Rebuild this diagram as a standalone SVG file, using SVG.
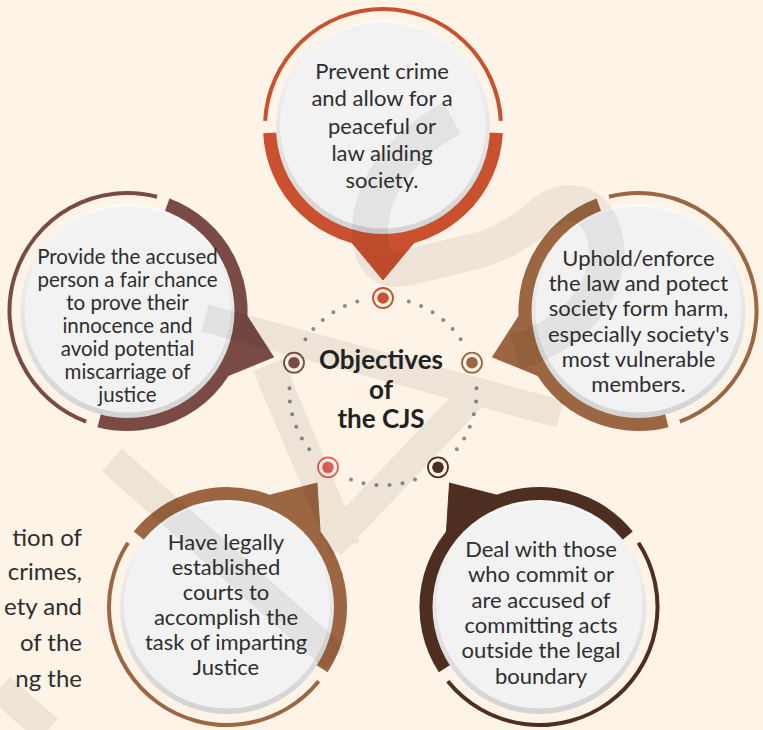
<svg xmlns="http://www.w3.org/2000/svg" width="763" height="730" viewBox="0 0 763 730">
<defs>
<style>
.t{font-family:Lato,"Liberation Sans",sans-serif;font-size:22px;fill:#2e2e2e;text-anchor:middle}
.sm{font-size:20.5px}
.side{font-family:Lato,"Liberation Sans",sans-serif;font-size:24px;fill:#2e2e2e;text-anchor:end}
.ctr{font-family:Lato,"Liberation Sans",sans-serif;font-size:26px;font-weight:bold;fill:#222;text-anchor:middle}
.thick{fill:none;stroke-width:15}
.thin{fill:none;stroke-width:4}
.mk{fill:#fdf3e6;stroke-width:1.8}
</style>
<linearGradient id="rim" x1="0" y1="0" x2="0" y2="1">
<stop offset="0" stop-color="#fafafa"/>
<stop offset="1" stop-color="#d3d3d3"/>
</linearGradient>
<g id="ring">
<path class="thick" d="M112.35,5.89A112.5,112.5 0 0 1 -112.35,5.89"/>
<path class="thin" d="M-117.84,-6.18A118,118 0 0 1 117.84,-6.18"/>
<polygon points="-44,100 44,100 0,153"/>
</g>
<g id="disk">
<circle r="107" fill="url(#rim)"/>
<circle cy="-1.5" r="103" fill="#f2f2f2"/>
</g>
</defs>
<rect width="763" height="730" fill="#fdf3e6"/>

<g id="node-top">
<use href="#ring" transform="translate(383,127)" fill="#c9512f" stroke="#c9512f"/>
<use href="#disk" x="383" y="127"/>
</g>
<g id="node-right">
<use href="#ring" transform="translate(638.5,311) rotate(72.5)" fill="#9b6641" stroke="#9b6641"/>
<use href="#disk" x="638.5" y="311"/>
</g>
<g id="node-left">
<use href="#ring" transform="translate(127.5,311) rotate(-72.5)" fill="#7a4b45" stroke="#7a4b45"/>
<use href="#disk" x="127.5" y="311"/>
</g>
<g id="node-bottom-left">
<use href="#ring" transform="translate(227,607) rotate(-144)" fill="#9b6641" stroke="#9b6641"/>
<use href="#disk" x="227" y="607"/>
</g>
<g id="node-bottom-right">
<use href="#ring" transform="translate(539.5,607) rotate(144)" fill="#4f2e22" stroke="#4f2e22"/>
<use href="#disk" x="539.5" y="607"/>
</g>

<g id="connectors">
<path fill="none" stroke="#8a8a8a" stroke-width="4" stroke-linecap="round" d="M408.8,301.6h0M421.1,306.1h0M432.6,312.2h0M443.2,319.9h0M452.6,329h0M460.6,339.3h0M476.5,388.3h0M476.1,401.4h0M473.8,414.2h0M469.8,426.7h0M464.1,438.4h0M456.8,449.2h0M415,479.6h0M402.5,483.2h0M389.5,485h0M376.5,485h0M363.5,483.2h0M351,479.6h0M309.2,449.2h0M301.9,438.4h0M296.2,426.7h0M292.2,414.2h0M289.9,401.4h0M289.5,388.3h0M305.4,339.3h0M313.4,329h0M322.8,319.9h0M333.4,312.2h0M344.9,306.1h0M357.2,301.6h0"/>
<g id="m-top"><circle class="mk" cx="383" cy="298" r="10" stroke="#c9512f"/><circle cx="383" cy="298" r="5.8" fill="#c9512f"/></g>
<g id="m-right"><circle class="mk" cx="472" cy="362.7" r="10" stroke="#9b6641"/><circle cx="472" cy="362.7" r="5.8" fill="#9b6641"/></g>
<g id="m-left"><circle class="mk" cx="294" cy="362.7" r="10" stroke="#7a4b45"/><circle cx="294" cy="362.7" r="5.8" fill="#7a4b45"/></g>
<g id="m-bl"><circle class="mk" cx="328" cy="467.3" r="10" stroke="#e35f5c"/><circle cx="328" cy="467.3" r="5.8" fill="#e35f5c"/></g>
<g id="m-br"><circle class="mk" cx="438" cy="467.3" r="10" stroke="#4f2e22"/><circle cx="438" cy="467.3" r="5.8" fill="#4f2e22"/></g>
</g>

<g id="watermark" opacity="0.06" stroke="#000" fill="none" stroke-width="36">
<path d="M452,118C398,148 369,190 370,235C371,262 385,274 410,267L480,250C510,240 530,226 545,212C590,180 625,240 596,292C580,322 550,342 515,352"/>
<path stroke-width="28" d="M205,318L560,414"/>
<path stroke-width="32" d="M268,365L345,548"/>
<path stroke-width="30" d="M330,545L470,398"/>
<path stroke-width="30" d="M112,460L335,658"/>
<path stroke-width="30" d="M0,688L48,730"/>
</g>

<g id="texts">
<text class="t"><tspan x="382" y="79">Prevent crime</tspan><tspan x="382" y="106.3">and allow for a</tspan><tspan x="382" y="133.6">peaceful or</tspan><tspan x="382" y="160.9">law aliding</tspan><tspan x="382" y="188.2">society.</tspan></text>
<text class="t"><tspan x="638.5" y="266">Uphold/enforce</tspan><tspan x="638.5" y="291.2">the law and potect</tspan><tspan x="638.5" y="316.4">society form harm,</tspan><tspan x="638.5" y="341.6">especially society's</tspan><tspan x="638.5" y="366.8">most vulnerable</tspan><tspan x="638.5" y="392">members.</tspan></text>
<text class="t sm"><tspan x="127.5" y="264">Provide the accused</tspan><tspan x="127.5" y="287">person a fair chance</tspan><tspan x="127.5" y="310">to prove their</tspan><tspan x="127.5" y="333">innocence and</tspan><tspan x="127.5" y="356">avoid potential</tspan><tspan x="127.5" y="379">miscarriage of</tspan><tspan x="127.5" y="402">justice</tspan></text>
<text class="t"><tspan x="226" y="550">Have legally</tspan><tspan x="226" y="575">established</tspan><tspan x="226" y="600">courts to</tspan><tspan x="226" y="625">accomplish the</tspan><tspan x="226" y="650">task of imparting</tspan><tspan x="226" y="675">Justice</tspan></text>
<text class="t"><tspan x="541" y="557">Deal with those</tspan><tspan x="541" y="582.3">who commit or</tspan><tspan x="541" y="607.6">are accused of</tspan><tspan x="541" y="632.9">committing acts</tspan><tspan x="541" y="658.2">outside the legal</tspan><tspan x="541" y="683.5">boundary</tspan></text>
<text class="ctr"><tspan x="381" y="369">Objectives</tspan><tspan x="381" y="398.5">of</tspan><tspan x="381" y="428">the CJS</tspan></text>
<text class="side"><tspan x="82" y="546">tion of</tspan><tspan x="82" y="580">crimes,</tspan><tspan x="82" y="615">ety and</tspan><tspan x="82" y="651">of the</tspan><tspan x="82" y="687">ng the</tspan></text>
</g>
</svg>
